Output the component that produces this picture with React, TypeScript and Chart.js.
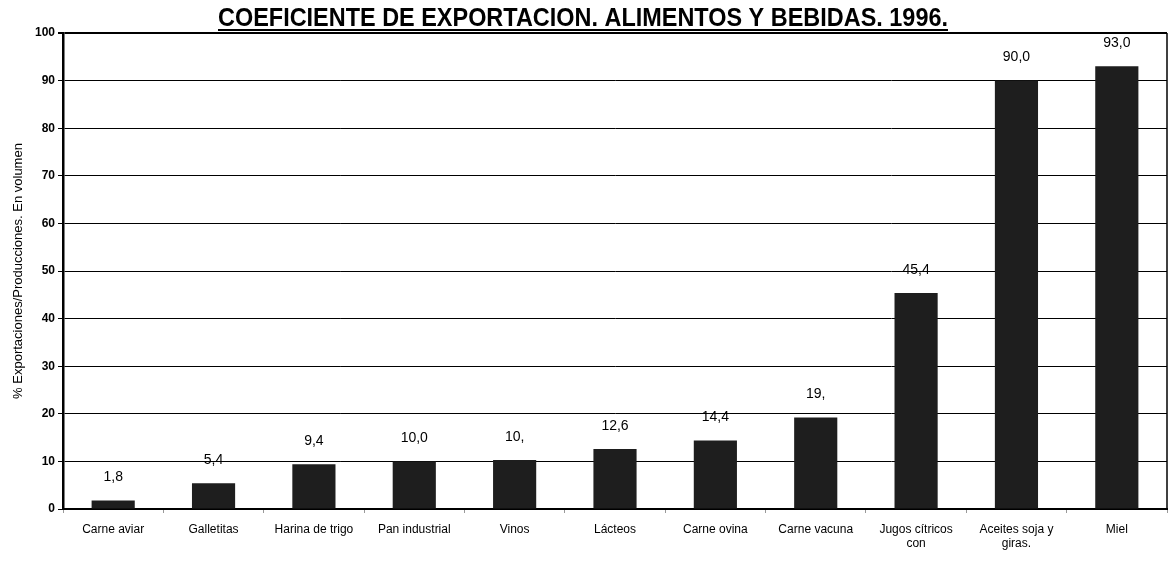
import React, { useEffect, useRef } from "react";
import { Chart, registerables } from "chart.js";

Chart.register(...registerables);

const TITLE = "COEFICIENTE DE EXPORTACION. ALIMENTOS Y BEBIDAS. 1996.";
const Y_TITLE = "% Exportaciones/Producciones. En volumen";
const categories: (string | string[])[] = [
  "Carne aviar",
  "Galletitas",
  "Harina de trigo",
  "Pan industrial",
  "Vinos",
  "Lácteos",
  "Carne ovina",
  "Carne vacuna",
  ["Jugos cítricos", "con"],
  ["Aceites soja y", "giras."],
  "Miel",
];
const values: number[] = [1.8, 5.4, 9.4, 10.0, 10.3, 12.6, 14.4, 19.2, 45.4, 90.0, 93.0];
const valueLabels: string[] = ["1,8", "5,4", "9,4", "10,0", "10,", "12,6", "14,4", "19,", "45,4", "90,0", "93,0"];
const yTicks: number[] = [0, 10, 20, 30, 40, 50, 60, 70, 80, 90, 100];

const FONT = "'Liberation Sans Narrow', 'Liberation Sans', Arial, sans-serif";

const decorPlugin = {
  id: "decor",
  afterDraw(chart: any) {
    const { ctx, chartArea } = chart;
    ctx.save();
    // right border
    ctx.strokeStyle = "#000";
    ctx.lineWidth = 1.5;
    ctx.beginPath();
    ctx.moveTo(chartArea.right, chartArea.top);
    ctx.lineTo(chartArea.right, chartArea.bottom);
    ctx.stroke();
    // title
    ctx.fillStyle = "#000";
    ctx.font = "bold 26px 'Liberation Sans', Arial, sans-serif";
    ctx.textAlign = "center";
    ctx.textBaseline = "alphabetic";
    const cx = 583;
    const maxW = 730;
    ctx.fillText(TITLE, cx, 26, maxW);
    const w = Math.min(ctx.measureText(TITLE).width, maxW);
    ctx.lineWidth = 2;
    ctx.beginPath();
    ctx.moveTo(cx - w / 2, 30);
    ctx.lineTo(cx + w / 2, 30);
    ctx.stroke();
    // value labels
    const meta = chart.getDatasetMeta(0);
    ctx.font = "14px " + FONT;
    ctx.textBaseline = "middle";
    meta.data.forEach((bar: any, i: number) => {
      ctx.fillText(valueLabels[i], bar.x, bar.y - 23);
    });
    ctx.restore();
  },
};

export default function App() {
  const ref = useRef<HTMLCanvasElement>(null);
  useEffect(() => {
    const chart = new Chart(ref.current as HTMLCanvasElement, {
      type: "bar",
      data: {
        labels: categories,
        datasets: [
          {
            data: values,
            backgroundColor: "#1e1e1e",
            borderWidth: 0,
            barPercentage: 0.43,
            categoryPercentage: 1,
          },
        ],
      },
      options: {
        animation: false,
        responsive: false,
        maintainAspectRatio: false,
        layout: { padding: { top: 33, right: 5, left: 0, bottom: 0 } },
        plugins: {
          legend: { display: false },
          title: { display: false },
          tooltip: { enabled: false },
        },
        scales: {
          x: {
            offset: true,
            grid: {
              display: true,
              drawOnChartArea: false,
              tickLength: 4,
              color: "#999",
              offset: true,
            },
            border: { display: true, color: "#000", width: 2 },
            ticks: {
              color: "#000",
              font: { family: FONT, size: 12 },
              padding: 9,
              maxRotation: 0,
              autoSkip: false,
            },
            afterFit: (s: any) => {
              s.height = 54;
            },
          },
          y: {
            min: 0,
            max: 100,
            afterBuildTicks: (s: any) => {
              s.ticks = yTicks.map((v) => ({ value: v }));
            },
            grid: {
              color: "#000",
              lineWidth: (c: any) => (c.tick && c.tick.value === 100 ? 2 : 1),
              tickLength: 5,
            },
            border: { display: true, color: "#000", width: 2.5 },
            ticks: {
              color: "#000",
              font: { family: FONT, size: 12, weight: "bold" },
              padding: 3,
            },
            title: {
              display: true,
              text: Y_TITLE,
              color: "#000",
              font: { family: FONT, size: 13 },
              padding: { top: 11, bottom: 0 },
            },
            afterFit: (s: any) => {
              s.width = 63;
            },
          },
        },
      },
      plugins: [decorPlugin],
    } as any);
    return () => chart.destroy();
  }, []);
  return (
    <div style={{ position: "fixed", left: 0, top: 0, width: 1172, height: 563, background: "#fff" }}>
      <canvas ref={ref} width={1172} height={563} style={{ width: 1172, height: 563 }} />
    </div>
  );
}
